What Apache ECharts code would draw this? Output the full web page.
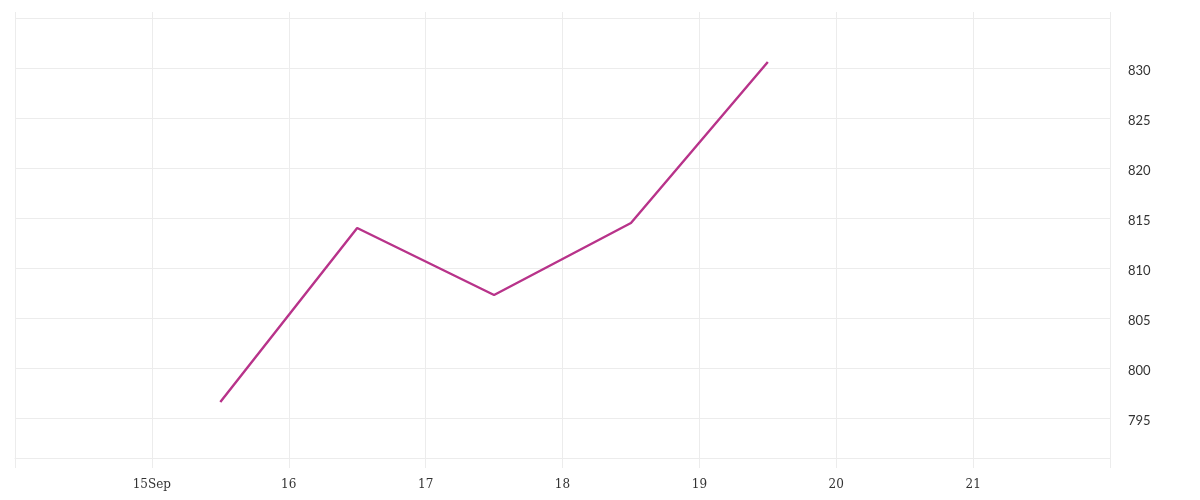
<!DOCTYPE html>
<html>
<head>
<meta charset="utf-8">
<script src="https://cdn.jsdelivr.net/npm/echarts@6/dist/echarts.min.js"></script>
<style>html,body{margin:0;padding:0;background:#fff}#c{width:1200px;height:500px}</style>
</head>
<body>
<div id="c"></div>
<script>
// Days of September (noon of each day = x.5)
var xDays = [15.5, 16.5, 17.5, 18.5, 19.5];
var values = [796.6, 814.0, 807.3, 814.5, 830.6];
var xTickLabels = {15: '15Sep', 16: '16', 17: '17', 18: '18', 19: '19', 20: '20', 21: '21'};

var data = xDays.map(function (d, i) { return [d, values[i]]; });
var gridColor = '#ececec';

var chart = echarts.init(document.getElementById('c'), null, {renderer: 'canvas'});
chart.setOption({
  animation: false,
  backgroundColor: '#fff',
  grid: {left: 15, right: 90, top: 18, bottom: 42, containLabel: false},
  xAxis: [{
    type: 'value', min: 14, max: 22, interval: 1,
    axisLine: {show: true, lineStyle: {color: gridColor}},
    axisTick: {show: true, length: 10, lineStyle: {color: gridColor}},
    splitLine: {show: true, lineStyle: {color: gridColor}},
    axisLabel: {
      margin: 21, color: '#333', fontFamily: 'DejaVu Serif', fontSize: 12,
      formatter: function (v) { return xTickLabels[Math.round(v)] || ''; }
    }
  }, {
    type: 'value', min: 14, max: 22, interval: 1, position: 'top',
    axisLine: {show: false},
    axisTick: {show: true, length: 6, lineStyle: {color: gridColor}},
    splitLine: {show: false},
    axisLabel: {show: false}
  }],
  yAxis: {
    type: 'value', position: 'right', min: 791, max: 835, splitNumber: 9,
    axisLine: {show: false},
    axisTick: {show: false},
    splitLine: {show: true, lineStyle: {color: gridColor}},
    axisLabel: {
      margin: 18, color: '#333', fontFamily: 'Lato', fontSize: 13,
      showMinLabel: false, showMaxLabel: false,
      formatter: function (v) { return '{a|' + v + '}'; },
      rich: {a: {padding: [5, 0, 0, 0], color: '#333', fontFamily: 'Lato', fontSize: 13}}
    }
  },
  series: [{
    type: 'line', data: data, showSymbol: false, symbol: 'none',
    lineStyle: {color: '#b8338a', width: 2.4}
  }]
});
</script>
</body>
</html>
